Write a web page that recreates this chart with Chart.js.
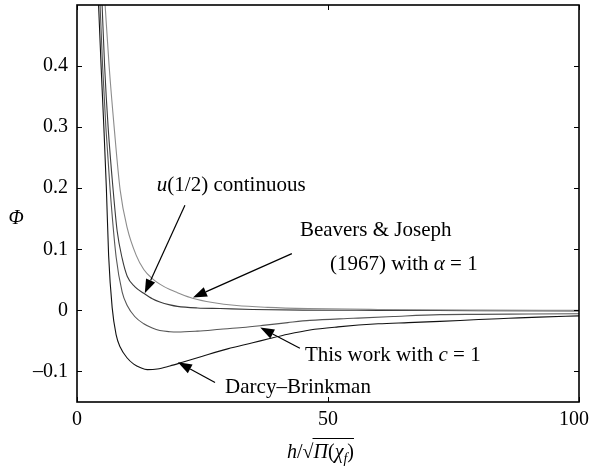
<!DOCTYPE html>
<html>
<head>
<meta charset="utf-8">
<script src="https://cdn.jsdelivr.net/npm/chart.js@4/dist/chart.umd.min.js"></script>
<style>
  html, body { margin: 0; padding: 0; background: #fff; }
</style>
</head>
<body>
<canvas id="phiChart" width="591" height="469"></canvas>
<script>
// x ticks / y ticks
const xTicks = [0, 50, 100];
const yTicks = [-0.1, 0, 0.1, 0.2, 0.3, 0.4];

// Darcy-Brinkman
const darcyX = [4.3, 4.8, 5.35, 5.85, 6.3, 7.0, 7.8, 8.6, 10, 11.3, 12.7, 14, 16, 18.5, 21, 25, 30, 35, 38.4, 42, 46.4, 52, 60, 66, 72.3, 80, 86, 92, 100];
const darcyY = [0.5, 0.4, 0.3, 0.2, 0.09, 0.005, -0.04, -0.06, -0.078, -0.088, -0.094, -0.097, -0.096, -0.091, -0.085, -0.075, -0.063, -0.053, -0.046, -0.039, -0.032, -0.027, -0.022, -0.020, -0.018, -0.015, -0.013, -0.011, -0.009];

// This work with c = 1
const workX = [4.6, 5.1, 5.75, 6.6, 7.8, 9, 10, 11.5, 13.3, 15, 16.5, 18.5, 20, 24, 28.5, 33, 37, 42, 46.4, 55, 63, 72.3, 80, 90, 100];
const workY = [0.5, 0.4, 0.3, 0.197, 0.087, 0.03, 0.008, -0.01, -0.022, -0.029, -0.033, -0.035, -0.0355, -0.034, -0.031, -0.028, -0.0246, -0.020, -0.0164, -0.013, -0.010, -0.007, -0.0065, -0.006, -0.0055];

// u(1/2) continuous
const contX = [5.0, 5.5, 6.2, 7.2, 8.0, 9, 10, 11.5, 13.3, 15, 16.5, 18.5, 20, 24, 28.5, 35, 45, 60, 80, 100];
const contY = [0.5, 0.4, 0.3, 0.197, 0.13, 0.085, 0.056, 0.039, 0.028, 0.019, 0.0137, 0.009, 0.0066, 0.004, 0.003, 0.0015, 0.0005, 0, -0.0005, -0.001];

// Beavers & Joseph (1967)
const bjX = [5.6, 6.4, 7.4, 8.6, 10, 11.8, 13.3, 15, 16.5, 18.5, 20, 23, 27, 31.8, 38, 46, 60, 80, 100];
const bjY = [0.5, 0.4, 0.3, 0.197, 0.135, 0.09, 0.067, 0.052, 0.043, 0.034, 0.029, 0.02, 0.013, 0.008, 0.005, 0.003, 0.0015, 0.0005, 0];

const SERIF = '"Liberation Serif", "Times New Roman", serif';

// nhãn chú thích (toạ độ theo dữ liệu)
const notes = [
  { x: 15.9, y: 0.205, parts: [['u', true], ['(1/2) continuous', false]] },
  { x: 44.4, y: 0.131, parts: [['Beavers & Joseph', false]] },
  { x: 50.4, y: 0.075, parts: [['(1967) with ', false], ['\u03b1', true], [' = 1', false]] },
  { x: 45.4, y: -0.074, parts: [['This work with ', false], ['c', true], [' = 1', false]] },
  { x: 29.5, y: -0.126, parts: [['Darcy\u2013Brinkman', false]] }
];
const arrows = [
  { from: [21.5, 0.172], to: [13.5, 0.028] },
  { from: [42.8, 0.093], to: [23.1, 0.021] },
  { from: [44.4, -0.062], to: [36.5, -0.028] },
  { from: [27.5, -0.118], to: [20.1, -0.085] }
];

function pts(xs, ys) {
  return xs.map((x, i) => ({ x: x, y: ys[i] }));
}

function drawParts(ctx, parts, x, y, size) {
  let cx = x;
  parts.forEach(([t, it]) => {
    ctx.font = (it ? 'italic ' : '') + size + 'px ' + SERIF;
    ctx.fillText(t, cx, y);
    cx += ctx.measureText(t).width;
  });
  return cx;
}

function drawArrow(ctx, x1, y1, x2, y2) {
  const ang = Math.atan2(y2 - y1, x2 - x1);
  const L = 14, W = 5;
  const bx = x2 - L * Math.cos(ang), by = y2 - L * Math.sin(ang);
  ctx.beginPath();
  ctx.moveTo(x1, y1);
  ctx.lineTo(bx, by);
  ctx.stroke();
  ctx.beginPath();
  ctx.moveTo(x2, y2);
  ctx.lineTo(bx + W * Math.sin(ang), by - W * Math.cos(ang));
  ctx.lineTo(bx - W * Math.sin(ang), by + W * Math.cos(ang));
  ctx.closePath();
  ctx.fill();
}

const decor = {
  id: 'decor',
  afterDraw(chart) {
    const { ctx, chartArea: a, scales: { x, y } } = chart;
    ctx.save();
    ctx.strokeStyle = '#000';
    ctx.fillStyle = '#000';
    // vạch chia hướng vào trong
    ctx.lineWidth = 1;
    ctx.beginPath();
    yTicks.forEach(v => {
      const py = Math.round(y.getPixelForValue(v)) + 0.5;
      ctx.moveTo(a.left, py); ctx.lineTo(a.left + 5, py);
      ctx.moveTo(a.right - 5, py); ctx.lineTo(a.right, py);
    });
    xTicks.forEach(v => {
      const px = Math.round(x.getPixelForValue(v)) + 0.5;
      ctx.moveTo(px, a.bottom); ctx.lineTo(px, a.bottom - 5);
      ctx.moveTo(px, a.top); ctx.lineTo(px, a.top + 5);
    });
    ctx.stroke();
    // khung
    ctx.lineWidth = 1.6;
    ctx.strokeRect(a.left, a.top, a.right - a.left, a.bottom - a.top);

    // chú thích
    ctx.textBaseline = 'middle';
    ctx.textAlign = 'left';
    notes.forEach(n => drawParts(ctx, n.parts, x.getPixelForValue(n.x), y.getPixelForValue(n.y), 21));
    ctx.lineWidth = 1.2;
    arrows.forEach(ar => drawArrow(ctx,
      x.getPixelForValue(ar.from[0]), y.getPixelForValue(ar.from[1]),
      x.getPixelForValue(ar.to[0]), y.getPixelForValue(ar.to[1])));

    // tiêu đề trục y
    ctx.textAlign = 'center';
    ctx.font = 'italic 20px ' + SERIF;
    ctx.fillText('\u03a6', 16, 219);

    // tiêu đề trục x: h/sqrt(Pi(chi_f))
    ctx.textAlign = 'left';
    ctx.textBaseline = 'alphabetic';
    const base = 458;
    let cx = drawParts(ctx, [['h', true], ['/', false]], 287, base, 20);
    ctx.font = '20px ' + SERIF;
    ctx.fillText('\u221a', cx, base);
    cx += ctx.measureText('\u221a').width;
    const ovStart = cx - 1;
    cx = drawParts(ctx, [['\u03a0', true], ['(', false], ['\u03c7', true]], cx, base, 20);
    ctx.font = 'italic 14px ' + SERIF;
    ctx.fillText('f', cx, base + 5);
    cx += ctx.measureText('f').width;
    ctx.font = '20px ' + SERIF;
    ctx.fillText(')', cx, base);
    cx += ctx.measureText(')').width;
    ctx.lineWidth = 1;
    ctx.beginPath();
    ctx.moveTo(ovStart, base - 19.5);
    ctx.lineTo(cx, base - 19.5);
    ctx.stroke();
    ctx.restore();
  }
};

const common = { fill: false, pointRadius: 0, borderWidth: 1.1, cubicInterpolationMode: 'monotone' };

new Chart(document.getElementById('phiChart'), {
  type: 'line',
  data: {
    datasets: [
      Object.assign({ label: 'Beavers & Joseph', data: pts(bjX, bjY), borderColor: '#8c8c8c' }, common),
      Object.assign({ label: 'u(1/2) continuous', data: pts(contX, contY), borderColor: '#3a3a3a' }, common),
      Object.assign({ label: 'This work', data: pts(workX, workY), borderColor: '#555555' }, common),
      Object.assign({ label: 'Darcy-Brinkman', data: pts(darcyX, darcyY), borderColor: '#111111' }, common)
    ]
  },
  options: {
    responsive: false,
    animation: false,
    layout: { padding: { top: 5, right: 12, left: 0, bottom: 0 } },
    plugins: {
      legend: { display: false },
      title: { display: false },
      tooltip: { enabled: false }
    },
    scales: {
      x: {
        type: 'linear',
        min: 0,
        max: 100,
        grid: { display: false, drawTicks: false },
        border: { display: false },
        afterBuildTicks: s => { s.ticks = xTicks.map(v => ({ value: v })); },
        afterFit: s => { s.height = 67; s.paddingLeft = 0; s.paddingRight = 0; },
        ticks: {
          padding: 6,
          color: '#000',
          maxRotation: 0,
          font: { family: SERIF, size: 20 },
          // nhãn cuối lùi vào để không bị cắt ở mép
          callback: v => (v === 100 ? '100\u2007' : String(v))
        }
      },
      y: {
        min: -0.15,
        max: 0.5,
        grid: { display: false, drawTicks: false },
        border: { display: false },
        afterBuildTicks: s => { s.ticks = yTicks.map(v => ({ value: v })); },
        afterFit: s => { s.width = 77; s.paddingTop = 0; s.paddingBottom = 0; },
        ticks: {
          padding: 9,
          color: '#000',
          font: { family: SERIF, size: 20 },
          callback: v => (v < 0 ? '\u2013' + Math.abs(v) : String(Math.round(v * 10) / 10))
        }
      }
    }
  },
  plugins: [decor]
});
</script>
</body>
</html>
